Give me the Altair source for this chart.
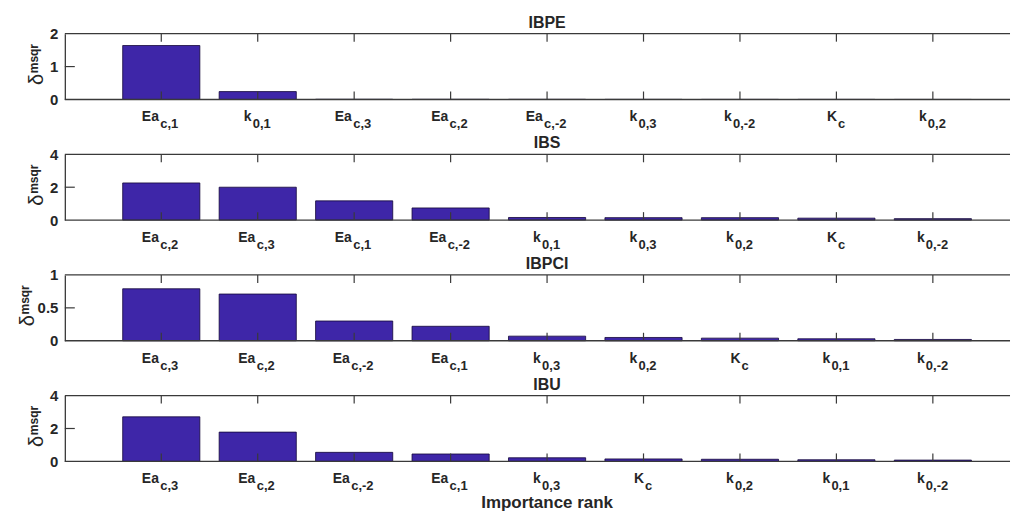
import altair as alt
import pandas as pd

# ---------------- data ----------------
panel_names = ["IBPE", "IBS", "IBPCI", "IBU"]

ibpe_labels = ["Ea_c,1", "k_0,1", "Ea_c,3", "Ea_c,2", "Ea_c,-2", "k_0,3", "k_0,-2", "K_c", "k_0,2"]
ibpe_values = [1.64, 0.24, 0.006, 0.005, 0.004, 0.003, 0.002, 0.002, 0.001]

ibs_labels = ["Ea_c,2", "Ea_c,3", "Ea_c,1", "Ea_c,-2", "k_0,1", "k_0,3", "k_0,2", "K_c", "k_0,-2"]
ibs_values = [2.26, 2.00, 1.17, 0.74, 0.16, 0.15, 0.15, 0.12, 0.09]

ibpci_labels = ["Ea_c,3", "Ea_c,2", "Ea_c,-2", "Ea_c,1", "k_0,3", "k_0,2", "K_c", "k_0,1", "k_0,-2"]
ibpci_values = [0.79, 0.71, 0.30, 0.22, 0.07, 0.05, 0.04, 0.03, 0.02]

ibu_labels = ["Ea_c,3", "Ea_c,2", "Ea_c,-2", "Ea_c,1", "k_0,3", "K_c", "k_0,2", "k_0,1", "k_0,-2"]
ibu_values = [2.71, 1.78, 0.55, 0.45, 0.22, 0.15, 0.13, 0.10, 0.08]

y_max = [2, 4, 1, 4]
y_ticks = [[0, 1, 2], [0, 2, 4], [0, 0.5, 1], [0, 2, 4]]

x_title = "Importance rank"

# ---------------- style ----------------
FONT = "Liberation Sans"
BAR = "#3E26A8"
AX = "#3a3a3a"
TXT = "#262626"
W = 948
H = 66
XMAX = 9.8
# (dx main, dx subscript) per label family
DX = {"Ea3": (-19.5, -1.0), "Ea4": (-21.5, -3.0), "k3": (-14.0, -5.0),
      "k4": (-16.0, -7.0), "K1": (-9.5, 1.5)}


def family(lbl):
    main, sub = lbl.split("_")
    return main + ("4" if "-" in sub else str(len(sub)))


def panel(idx, labels, values, last=False):
    name = panel_names[idx]
    df = pd.DataFrame({
        "pos": list(range(1, len(labels) + 1)),
        "val": values,
        "main": [l.split("_")[0] for l in labels],
        "sub": [l.split("_")[1] for l in labels],
        "fam": [family(l) for l in labels],
    })
    xs = alt.Scale(domain=[0, XMAX], nice=False, zero=False, padding=0)
    ys = alt.Scale(domain=[0, y_max[idx]], nice=False, padding=0)
    base = alt.Chart(df)
    one = alt.Chart(pd.DataFrame({"k": [0]}))
    edge = alt.Chart(pd.DataFrame({"fx": [0, XMAX]}))

    bars = base.transform_calculate(
        lo="datum.pos - 0.4", hi="datum.pos + 0.4"
    ).mark_bar(fill=BAR, stroke="#14083a", strokeWidth=0.8).encode(
        x=alt.X("lo:Q", scale=xs, axis=None),
        x2="hi:Q",
        y=alt.Y("val:Q", scale=ys, axis=alt.Axis(
            values=y_ticks[idx], format="~g", title=None, grid=False, ticks=False,
            domain=True, domainColor=AX, domainWidth=1.3, labelOverlap=False,
            labelFont=FONT, labelFontSize=15, labelFontWeight="bold",
            labelColor=TXT, labelPadding=7)),
        y2=alt.datum(0),
    )

    tick_top = base.mark_rule(color=AX, strokeWidth=1.2).encode(
        x=alt.X("pos:Q", scale=xs), y=alt.value(0), y2=alt.value(8))
    tick_bot = base.mark_rule(color=AX, strokeWidth=1.2).encode(
        x=alt.X("pos:Q", scale=xs), y=alt.value(H), y2=alt.value(H - 8))

    ytk = one.mark_rule(color=AX, strokeWidth=1.2).encode(
        y=alt.value(H / 2), x=alt.value(0), x2=alt.value(10))
    frame_top = edge.mark_line(color=AX, strokeWidth=1.3).encode(
        x=alt.X("fx:Q", scale=xs), y=alt.value(0))
    frame_bot = edge.mark_line(color=AX, strokeWidth=1.3).encode(
        x=alt.X("fx:Q", scale=xs), y=alt.value(H))

    title = alt.Chart(pd.DataFrame({"t": [name]})).mark_text(
        font=FONT, fontSize=16, fontWeight="bold", color=TXT,
        align="center", baseline="alphabetic").encode(
        x=alt.datum(5), y=alt.value(-6), text="t:N")

    shift = 9 if idx == 2 else 0
    ydelta = alt.Chart(pd.DataFrame({"t": ["δ"]})).mark_text(
        font=FONT, fontSize=20, color=TXT, angle=270,
        align="center", baseline="alphabetic").encode(
        x=alt.value(-22 - shift), y=alt.value(46), text="t:N")
    ysup = alt.Chart(pd.DataFrame({"t": ["msqr"]})).mark_text(
        font=FONT, fontSize=12, fontWeight="bold", color=TXT, angle=270,
        align="center", baseline="alphabetic").encode(
        x=alt.value(-27 - shift), y=alt.value(25), text="t:N")

    layers = [bars, frame_top, frame_bot, tick_top, tick_bot, ytk, title, ydelta, ysup]
    for fam, (dm, ds) in DX.items():
        sel = base.transform_filter(alt.datum.fam == fam)
        layers.append(sel.mark_text(
            font=FONT, fontSize=14, fontWeight="bold", color=TXT,
            align="left", baseline="alphabetic", dx=dm).encode(
            x=alt.X("pos:Q", scale=xs), y=alt.value(H + 22), text="main:N"))
        layers.append(sel.mark_text(
            font=FONT, fontSize=13, fontWeight="bold", color=TXT,
            align="left", baseline="alphabetic", dx=ds).encode(
            x=alt.X("pos:Q", scale=xs), y=alt.value(H + 29), text="sub:N"))

    if last:
        layers.append(alt.Chart(pd.DataFrame({"t": [x_title]})).mark_text(
            font=FONT, fontSize=17, fontWeight="bold", color=TXT,
            align="center", baseline="alphabetic").encode(
            x=alt.datum(5), y=alt.value(H + 47), text="t:N"))

    return alt.layer(*layers).properties(width=W, height=H)


chart = alt.vconcat(
    panel(0, ibpe_labels, ibpe_values),
    panel(1, ibs_labels, ibs_values),
    panel(2, ibpci_labels, ibpci_values),
    panel(3, ibu_labels, ibu_values, last=True),
    spacing=55, bounds="flush",
).properties(
    padding={"left": 10, "top": 6, "right": 0, "bottom": 0}
).configure_view(stroke=None)

chart.save("out.html", embed_options={"renderer": "svg", "actions": False})
